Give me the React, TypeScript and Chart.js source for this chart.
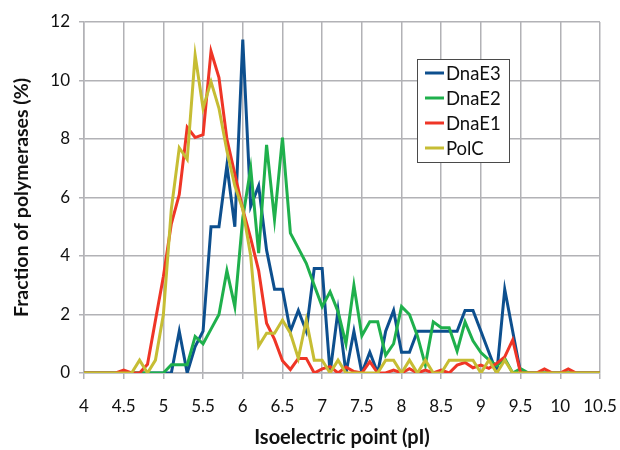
import React, { useEffect, useRef } from "react";
import { Chart, registerables } from "chart.js";

Chart.register(...registerables);

const PI = [
  4.0, 4.1, 4.2, 4.3, 4.4, 4.5, 4.6, 4.7, 4.8, 4.9,
  5.0, 5.1, 5.2, 5.3, 5.4, 5.5, 5.6, 5.7, 5.8, 5.9,
  6.0, 6.1, 6.2, 6.3, 6.4, 6.5, 6.6, 6.7, 6.8, 6.9,
  7.0, 7.1, 7.2, 7.3, 7.4, 7.5, 7.6, 7.7, 7.8, 7.9,
  8.0, 8.1, 8.2, 8.3, 8.4, 8.5, 8.6, 8.7, 8.8, 8.9,
  9.0, 9.1, 9.2, 9.3, 9.4, 9.5, 9.6, 9.7, 9.8, 9.9,
  10.0, 10.1, 10.2, 10.3, 10.4, 10.5,
];

const DNAE3 = [
  0, 0, 0, 0, 0, 0, 0, 0, 0, 0,
  0, 0, 1.43, 0, 0.9, 1.43, 5.0, 5.0, 7.1, 5.0,
  11.4, 5.7, 6.4, 4.2, 2.86, 2.86, 1.43, 2.14, 1.43, 3.57,
  3.57, 0, 2.14, 0, 1.43, 0, 0.71, 0, 1.43, 2.14,
  0.71, 0.71, 1.43, 1.43, 1.43, 1.43, 1.43, 1.43, 2.14, 2.14,
  1.43, 0.71, 0, 2.86, 1.43, 0, 0, 0, 0, 0,
  0, 0, 0, 0, 0, 0,
];

const DNAE2 = [
  0, 0, 0, 0, 0, 0, 0, 0, 0, 0,
  0, 0.28, 0.28, 0.28, 1.25, 1.0, 1.5, 2.0, 3.5, 2.27,
  5.3, 7.0, 4.1, 7.8, 5.25, 8.05, 4.78, 4.27, 3.75, 3.0,
  2.27, 2.78, 2.1, 1.0, 3.0, 1.27, 1.75, 1.75, 0.6, 1.0,
  2.27, 2.0, 1.27, 0.27, 1.75, 1.55, 1.55, 0.75, 1.75, 1.1,
  0.7, 0.45, 0.25, 0.5, 0, 0.15, 0, 0, 0, 0,
  0, 0, 0, 0, 0, 0,
];

const DNAE1 = [
  0, 0, 0, 0, 0, 0.1, 0, 0, 0.3, 1.8,
  3.3, 5.1, 6.1, 8.4, 8.05, 8.15, 11.0, 10.1, 8.0, 6.8,
  5.6, 4.6, 3.5, 1.7, 1.15, 0.42, 0.12, 0.5, 0.5, 0,
  0.14, 0.22, 0, 0.2, 0.05, 0, 0.39, 0, 0, 0.1,
  0, 0.15, 0, 0.1, 0, 0.1, 0, 0.27, 0.36, 0.18,
  0.27, 0.16, 0.33, 0.55, 1.13, 0, 0, 0, 0.14, 0,
  0, 0.14, 0, 0, 0, 0,
];

const POLC = [
  0, 0, 0, 0, 0, 0, 0, 0.44, 0, 0.44,
  2.0, 5.6, 7.7, 7.3, 10.87, 9.05, 9.96, 9.05, 7.6, 6.4,
  5.6, 4.0, 0.92, 1.36, 1.36, 1.81, 1.36, 0.5, 1.81, 0.44,
  0.44, 0, 0.44, 0, 0, 0, 0, 0, 0.44, 0.44,
  0, 0.44, 0, 0.44, 0, 0, 0.44, 0.44, 0.44, 0.44,
  0, 0.44, 0, 0.44, 0, 0, 0, 0, 0, 0,
  0, 0, 0, 0, 0, 0,
];

const SERIES_NAMES = ["DnaE3", "DnaE2", "DnaE1", "PolC"];
const SERIES_VALUES = [DNAE3, DNAE2, DNAE1, POLC];
const SERIES_COLORS = ["#0d4f8e", "#1fb04c", "#ef3526", "#c6bd34"];

const X_TITLE = "Isoelectric point (pI)";
const Y_TITLE = "Fraction of polymerases (%)";

const FONT = "Lato, 'Open Sans', sans-serif";
const GRID = "#b2b2b6";

export default function App() {
  const ref = useRef<HTMLCanvasElement>(null);

  useEffect(() => {
    document.body.style.margin = "0";
    const canvas = ref.current;
    if (!canvas) return;

    const legendPlugin = {
      id: "boxLegend",
      afterDraw(chart: any) {
        const ctx = chart.ctx as CanvasRenderingContext2D;
        ctx.save();
        const bx = 417, by = 59, bw = 92, bh = 103;
        ctx.fillStyle = "#ffffff";
        ctx.fillRect(bx, by, bw, bh);
        ctx.strokeStyle = "#4a4a4a";
        ctx.lineWidth = 1;
        ctx.strokeRect(bx + 0.5, by + 0.5, bw, bh);
        ctx.font = `18.5px ${FONT}`;
        ctx.textBaseline = "middle";
        ctx.textAlign = "left";
        SERIES_NAMES.forEach((name, i) => {
          const cy = 73 + i * 25;
          ctx.strokeStyle = SERIES_COLORS[i];
          ctx.lineWidth = 3;
          ctx.beginPath();
          ctx.moveTo(425, cy);
          ctx.lineTo(444, cy);
          ctx.stroke();
          ctx.fillStyle = "#111";
          ctx.fillText(name, 446, cy + 1);
        });
        ctx.restore();
      },
    };

    const datasets = SERIES_NAMES.map((name, i) => ({
      label: name,
      data: PI.map((x, j) => ({ x, y: SERIES_VALUES[i][j] })),
      borderColor: SERIES_COLORS[i],
      backgroundColor: SERIES_COLORS[i],
      borderWidth: 3,
      pointRadius: 0,
      tension: 0,
      fill: false,
      order: SERIES_NAMES.length - i,
    }));

    const chart = new Chart(canvas, {
      type: "line",
      data: { datasets },
      plugins: [legendPlugin],
      options: {
        responsive: false,
        animation: false,
        layout: { padding: { top: 22, right: 20, left: 0, bottom: 0 } },
        plugins: {
          legend: { display: false },
          tooltip: { enabled: false },
        },
        scales: {
          x: {
            type: "linear",
            min: 4,
            max: 10.5,
            afterFit: (s: any) => {
              s.height = 77;
              s.paddingLeft = 0;
              s.paddingRight = 0;
            },
            ticks: {
              stepSize: 0.5,
              autoSkip: false,
              maxRotation: 0,
              padding: 17,
              color: "#111",
              font: { family: FONT, size: 17 },
              callback: (v: any) => String(Math.round(Number(v) * 10) / 10),
            },
            grid: { color: GRID, lineWidth: 1.5, tickLength: 6 },
            border: { color: GRID, width: 1.5 },
            title: {
              display: true,
              text: X_TITLE,
              color: "#111",
              font: { family: FONT, size: 20, weight: "bold" },
              padding: { top: 0, bottom: 0 },
            },
          },
          y: {
            min: 0,
            max: 12,
            afterFit: (s: any) => {
              s.width = 84;
              s.paddingTop = 0;
              s.paddingBottom = 0;
            },
            ticks: {
              stepSize: 2,
              padding: 9,
              color: "#111",
              font: { family: FONT, size: 17 },
            },
            grid: { color: GRID, lineWidth: 1.5, tickLength: 5 },
            border: { color: GRID, width: 1.5 },
            title: {
              display: true,
              text: Y_TITLE,
              color: "#111",
              font: { family: FONT, size: 19.5, weight: "bold" },
              padding: { top: 10, bottom: 0 },
            },
          },
        },
      },
    });

    return () => chart.destroy();
  }, []);

  return (
    <div style={{ width: 620, height: 450, position: "relative", background: "#fff" }}>
      <canvas ref={ref} width={620} height={450} style={{ width: 620, height: 450, display: "block" }} />
    </div>
  );
}
